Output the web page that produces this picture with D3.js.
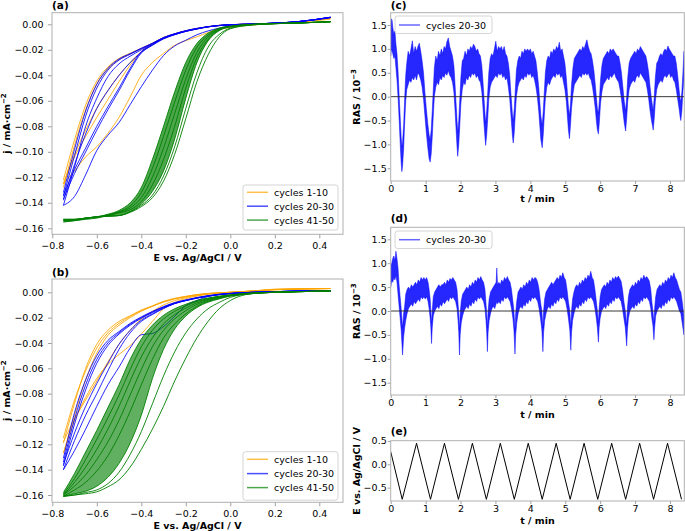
<!DOCTYPE html>
<html><head><meta charset="utf-8">
<script src="https://cdn.jsdelivr.net/npm/d3@7"></script>
<style>body{margin:0;background:#fff} text{font-family:"DejaVu Sans",sans-serif}</style>
</head><body><svg id="c" width="685" height="531"></svg>
<script>
// ---------- DATA ----------
const Egrid = [-0.75,-0.7,-0.65,-0.6,-0.55,-0.5,-0.45,-0.4,-0.35,-0.3,-0.25,-0.2,-0.15,-0.1,-0.05,0,0.1,0.2,0.3,0.45];
const legendLabels = ["cycles 1-10","cycles 20-30","cycles 41-50"];

// panel (a)
const aOrange = [
 [-0.122,-0.0906,-0.0633,-0.0445,-0.0335,-0.0268,-0.0227,-0.0188,-0.0148,-0.0103,-0.0074,-0.005,-0.0032,-0.0018,-0.0008,-0.0003,0.0002,0.0008,0.0018,0.005],
 [-0.128,-0.095,-0.067,-0.047,-0.035,-0.0278,-0.0232,-0.0192,-0.015,-0.0105,-0.0075,-0.0051,-0.0033,-0.0019,-0.0009,-0.0003,0.0002,0.0008,0.0018,0.005],
 [-0.125,-0.104,-0.088,-0.073,-0.059,-0.045,-0.032,-0.0215,-0.0155,-0.011,-0.0078,-0.0053,-0.0035,-0.002,-0.001,-0.0004,0.0002,0.0008,0.0018,0.005],
 [-0.125,-0.115,-0.104,-0.096,-0.0855,-0.073,-0.057,-0.040,-0.030,-0.0228,-0.0165,-0.0128,-0.0098,-0.0065,-0.004,-0.0025,-0.0005,0.0005,0.0015,0.004],
 [-0.125,-0.102,-0.083,-0.066,-0.052,-0.040,-0.030,-0.0215,-0.016,-0.0112,-0.008,-0.0055,-0.0036,-0.002,-0.001,-0.0004,0.0002,0.0008,0.0018,0.005]
];
const aBlue = [
 [-0.135,-0.103,-0.072,-0.05,-0.036,-0.028,-0.0235,-0.019,-0.015,-0.0105,-0.0075,-0.0051,-0.0033,-0.0019,-0.0009,-0.0003,0.0002,0.0009,0.002,0.0055],
 [-0.132,-0.098,-0.068,-0.047,-0.0345,-0.0272,-0.023,-0.0188,-0.0149,-0.0104,-0.0074,-0.005,-0.0032,-0.0018,-0.0008,-0.0003,0.0002,0.0009,0.002,0.0055],
 [-0.134,-0.114,-0.097,-0.080,-0.0646,-0.050,-0.0345,-0.0214,-0.016,-0.011,-0.008,-0.0055,-0.0036,-0.002,-0.001,-0.0004,0.0002,0.0009,0.002,0.0055],
 [-0.137,-0.117,-0.100,-0.083,-0.067,-0.052,-0.036,-0.0225,-0.0165,-0.0115,-0.0082,-0.0056,-0.0037,-0.002,-0.001,-0.0004,0.0002,0.0009,0.002,0.0055],
 [-0.138,-0.110,-0.086,-0.066,-0.052,-0.040,-0.030,-0.022,-0.016,-0.011,-0.008,-0.0055,-0.0036,-0.002,-0.001,-0.0004,0.0002,0.0009,0.002,0.0055],
 [-0.142,-0.135,-0.118,-0.099,-0.087,-0.077,-0.063,-0.049,-0.036,-0.0245,-0.017,-0.0125,-0.0082,-0.0052,-0.003,-0.0012,0.0,0.001,0.002,0.005],
 [-0.142,-0.112,-0.080,-0.058,-0.041,-0.031,-0.025,-0.020,-0.0152,-0.0106,-0.0076,-0.0052,-0.0034,-0.0019,-0.0009,-0.0003,0.0002,0.0009,0.002,0.0055]
];
const aGreen = [
 [-0.154,-0.1535,-0.152,-0.151,-0.149,-0.146,-0.140,-0.128,-0.106,-0.080,-0.053,-0.030,-0.015,-0.007,-0.003,-0.0015,0.0,0.0006,0.001,0.002],
 [-0.155,-0.154,-0.1525,-0.1515,-0.1495,-0.147,-0.1425,-0.132,-0.113,-0.088,-0.061,-0.036,-0.018,-0.0085,-0.0035,-0.0017,0.0,0.0006,0.001,0.002],
 [-0.154,-0.1535,-0.152,-0.151,-0.1495,-0.1475,-0.144,-0.136,-0.120,-0.097,-0.070,-0.043,-0.022,-0.010,-0.004,-0.0018,-0.0001,0.0006,0.001,0.002],
 [-0.155,-0.154,-0.153,-0.152,-0.150,-0.148,-0.1455,-0.139,-0.126,-0.106,-0.080,-0.050,-0.026,-0.012,-0.0045,-0.002,-0.0002,0.0005,0.001,0.002],
 [-0.153,-0.153,-0.152,-0.151,-0.1505,-0.150,-0.147,-0.141,-0.131,-0.115,-0.090,-0.058,-0.030,-0.013,-0.005,-0.002,-0.0003,0.0005,0.001,0.002],
 [-0.153,-0.153,-0.152,-0.151,-0.1505,-0.150,-0.147,-0.142,-0.134,-0.119,-0.096,-0.066,-0.038,-0.018,-0.008,-0.003,-0.0004,0.0005,0.001,0.002],
 [-0.153,-0.153,-0.152,-0.151,-0.1505,-0.150,-0.1475,-0.143,-0.136,-0.123,-0.102,-0.074,-0.045,-0.024,-0.010,-0.0035,-0.0005,0.0005,0.001,0.002]
];
// panel (b)
const bOrange = [
 [-0.119,-0.0876,-0.060,-0.041,-0.030,-0.023,-0.0185,-0.014,-0.0107,-0.0071,-0.0048,-0.0032,-0.0018,-0.0009,-0.0003,0.0,0.001,0.0025,0.0028,0.003],
 [-0.127,-0.097,-0.069,-0.048,-0.034,-0.026,-0.020,-0.015,-0.011,-0.0078,-0.0053,-0.0035,-0.002,-0.001,-0.0004,0.0,0.001,0.0022,0.0026,0.003],
 [-0.127,-0.101,-0.083,-0.068,-0.057,-0.049,-0.042,-0.033,-0.023,-0.013,-0.008,-0.005,-0.003,-0.0015,-0.0007,0.0,0.001,0.002,0.0025,0.003],
 [-0.118,-0.100,-0.085,-0.070,-0.055,-0.041,-0.030,-0.021,-0.015,-0.010,-0.0065,-0.0042,-0.0026,-0.0014,-0.0006,0.0,0.001,0.002,0.0025,0.003],
 [-0.115,-0.085,-0.062,-0.044,-0.032,-0.0245,-0.019,-0.0145,-0.011,-0.0075,-0.005,-0.0033,-0.0019,-0.001,-0.0004,0.0,0.001,0.0022,0.0026,0.003]
];
const bBlue = [
 [-0.131,-0.095,-0.069,-0.050,-0.038,-0.031,-0.0245,-0.0194,-0.0151,-0.0113,-0.0081,-0.006,-0.0041,-0.0026,-0.0015,-0.0008,0.0,0.0005,0.001,0.0012],
 [-0.137,-0.104,-0.077,-0.056,-0.042,-0.033,-0.026,-0.0205,-0.016,-0.012,-0.0088,-0.0065,-0.0045,-0.003,-0.0018,-0.001,0.0,0.0005,0.001,0.0012],
 [-0.134,-0.100,-0.073,-0.053,-0.040,-0.032,-0.0252,-0.020,-0.0155,-0.0116,-0.0085,-0.0062,-0.0043,-0.0028,-0.0016,-0.0009,0.0,0.0005,0.001,0.0012],
 [-0.140,-0.117,-0.097,-0.080,-0.062,-0.045,-0.032,-0.023,-0.0175,-0.0128,-0.009,-0.0066,-0.0046,-0.003,-0.0018,-0.001,0.0,0.0005,0.001,0.0012],
 [-0.136,-0.111,-0.090,-0.072,-0.056,-0.041,-0.030,-0.022,-0.017,-0.0125,-0.0088,-0.0064,-0.0045,-0.003,-0.0018,-0.001,0.0,0.0005,0.001,0.0012],
 [-0.140,-0.125,-0.108,-0.090,-0.073,-0.059,-0.044,-0.0335,-0.0325,-0.027,-0.019,-0.0105,-0.0065,-0.0033,-0.0018,-0.001,0.0,0.0005,0.001,0.0012]
];
const bGreen = [
 [-0.158,-0.143,-0.126,-0.109,-0.091,-0.073,-0.053,-0.037,-0.026,-0.0182,-0.013,-0.0095,-0.0064,-0.0045,-0.003,-0.002,-0.0005,0.0,0.0005,0.001],
 [-0.159,-0.147,-0.132,-0.116,-0.099,-0.081,-0.061,-0.043,-0.030,-0.021,-0.015,-0.0108,-0.0072,-0.005,-0.0034,-0.0022,-0.0006,0.0,0.0005,0.001],
 [-0.160,-0.150,-0.138,-0.124,-0.108,-0.090,-0.070,-0.051,-0.036,-0.025,-0.0175,-0.0125,-0.0083,-0.0056,-0.0038,-0.0024,-0.0007,0.0,0.0005,0.001],
 [-0.160,-0.153,-0.144,-0.132,-0.118,-0.101,-0.081,-0.061,-0.043,-0.030,-0.021,-0.0145,-0.0095,-0.0063,-0.0042,-0.0026,-0.0008,0.0,0.0005,0.001],
 [-0.161,-0.156,-0.150,-0.141,-0.129,-0.113,-0.094,-0.073,-0.053,-0.036,-0.025,-0.017,-0.011,-0.007,-0.0047,-0.0028,-0.0009,0.0,0.0005,0.001],
 [-0.161,-0.159,-0.157,-0.153,-0.146,-0.135,-0.119,-0.097,-0.068,-0.045,-0.029,-0.0188,-0.012,-0.0078,-0.0052,-0.003,-0.001,0.0,0.0005,0.001],
 [-0.161,-0.160,-0.158,-0.156,-0.151,-0.142,-0.128,-0.110,-0.088,-0.066,-0.047,-0.032,-0.021,-0.013,-0.008,-0.004,-0.001,0.0,0.0005,0.001],
 [-0.161,-0.160,-0.159,-0.1575,-0.1535,-0.148,-0.138,-0.124,-0.108,-0.090,-0.070,-0.052,-0.036,-0.023,-0.013,-0.0065,-0.001,0.0,0.0005,0.001]
];
// panel (c): [t (min), low, high] envelope of RAS (10^-3)
const rasC = [
 [0.00,0.85,1.45],[0.02,1.00,1.63],[0.04,0.95,1.60],[0.06,0.90,1.45],[0.09,0.80,1.30],[0.12,0.85,1.38],[0.15,0.60,1.10],[0.18,0.35,0.90],[0.21,0.00,0.55],[0.24,-0.45,0.05],[0.27,-0.95,-0.40],[0.30,-1.40,-0.85],[0.32,-1.57,-1.05],[0.34,-1.45,-0.95],[0.37,-1.10,-0.60],[0.40,-0.55,-0.05],[0.43,-0.10,0.45],[0.46,0.15,0.70],[0.50,0.25,0.95],[0.54,0.35,0.85],[0.58,0.30,1.00],[0.62,0.40,1.17],[0.66,0.35,0.90],[0.70,0.45,1.05],[0.74,0.35,0.95],[0.78,0.50,1.05],[0.82,0.45,1.12],[0.86,0.35,0.95],[0.90,0.20,0.75],[0.94,-0.05,0.50],[0.98,-0.40,0.10],[1.02,-0.75,-0.25],[1.06,-1.05,-0.55],[1.10,-1.30,-0.80],[1.13,-1.37,-0.90],
 [1.16,-1.20,-0.70],[1.19,-0.85,-0.30],[1.22,-0.40,0.15],[1.25,0.00,0.60],[1.29,0.20,0.85],[1.33,0.30,0.75],[1.37,0.25,0.95],[1.41,0.40,0.85],[1.45,0.35,1.00],[1.49,0.45,0.90],[1.53,0.40,1.05],[1.57,0.50,1.00],[1.61,0.45,1.15],[1.65,0.55,1.23],[1.69,0.45,1.05],[1.73,0.40,0.95],[1.77,0.30,0.85],[1.81,0.10,0.65],[1.84,-0.25,0.30],[1.87,-0.65,-0.10],[1.90,-1.05,-0.50],[1.92,-1.25,-0.75],
 [1.95,-1.00,-0.50],[1.98,-0.60,-0.05],[2.01,-0.15,0.40],[2.05,0.15,0.75],[2.09,0.30,0.80],[2.13,0.25,0.95],[2.17,0.40,0.85],[2.21,0.35,1.00],[2.25,0.45,0.95],[2.29,0.40,1.05],[2.33,0.50,1.00],[2.37,0.45,1.10],[2.41,0.50,1.05],[2.45,0.40,0.95],[2.49,0.45,1.00],[2.53,0.35,0.90],[2.57,0.30,0.85],[2.61,0.10,0.65],[2.64,-0.20,0.35],[2.67,-0.55,0.00],[2.70,-0.85,-0.35],[2.72,-1.02,-0.55],
 [2.75,-0.80,-0.30],[2.78,-0.45,0.10],[2.81,-0.05,0.50],[2.85,0.20,0.80],[2.89,0.30,0.90],[2.93,0.35,0.85],[2.97,0.40,1.00],[3.01,0.45,1.16],[3.05,0.40,0.95],[3.09,0.50,1.05],[3.13,0.45,1.00],[3.17,0.50,1.05],[3.21,0.40,0.95],[3.25,0.45,1.05],[3.29,0.35,0.90],[3.33,0.40,0.85],[3.37,0.20,0.70],[3.41,-0.05,0.45],[3.44,-0.35,0.10],[3.47,-0.65,-0.20],[3.49,-0.85,-0.40],[3.51,-0.97,-0.50],
 [3.54,-0.75,-0.25],[3.57,-0.35,0.15],[3.60,0.00,0.55],[3.64,0.20,0.75],[3.68,0.30,0.85],[3.72,0.35,0.80],[3.76,0.40,0.95],[3.80,0.35,0.90],[3.84,0.45,1.00],[3.88,0.40,0.95],[3.92,0.50,1.00],[3.96,0.45,0.95],[4.00,0.50,1.00],[4.04,0.40,0.90],[4.08,0.45,0.95],[4.12,0.35,0.85],[4.16,0.20,0.75],[4.20,0.00,0.50],[4.24,-0.30,0.20],[4.27,-0.60,-0.10],[4.30,-0.90,-0.40],[4.34,-1.07,-0.60],
 [4.37,-0.80,-0.30],[4.40,-0.40,0.10],[4.43,-0.05,0.50],[4.47,0.20,0.75],[4.51,0.30,0.85],[4.55,0.25,0.80],[4.59,0.35,0.95],[4.63,0.40,0.90],[4.67,0.45,1.00],[4.71,0.40,0.95],[4.75,0.50,1.05],[4.79,0.45,1.00],[4.83,0.50,1.14],[4.87,0.40,0.95],[4.91,0.45,1.00],[4.95,0.30,0.85],[4.99,0.15,0.70],[5.03,-0.10,0.40],[5.06,-0.40,0.10],[5.09,-0.70,-0.20],[5.12,-0.88,-0.40],
 [5.15,-0.60,-0.15],[5.18,-0.25,0.25],[5.22,0.05,0.60],[5.26,0.25,0.80],[5.30,0.30,0.85],[5.34,0.35,0.90],[5.38,0.40,0.95],[5.42,0.45,1.00],[5.46,0.40,0.95],[5.50,0.50,1.05],[5.54,0.45,1.00],[5.58,0.50,1.10],[5.62,0.45,1.19],[5.66,0.50,1.05],[5.70,0.40,0.95],[5.74,0.35,0.90],[5.78,0.20,0.75],[5.82,0.00,0.55],[5.86,-0.25,0.25],[5.89,-0.50,0.00],[5.92,-0.70,-0.25],[5.95,-0.78,-0.35],
 [5.98,-0.50,-0.05],[6.01,-0.15,0.35],[6.05,0.10,0.65],[6.09,0.25,0.80],[6.13,0.30,0.85],[6.17,0.35,0.90],[6.21,0.40,0.95],[6.25,0.35,0.90],[6.29,0.45,1.00],[6.33,0.40,0.95],[6.37,0.45,1.00],[6.41,0.50,0.95],[6.45,0.40,0.90],[6.49,0.35,0.85],[6.53,0.30,0.85],[6.57,0.15,0.70],[6.61,-0.05,0.50],[6.65,-0.30,0.20],[6.69,-0.55,-0.10],[6.73,-0.72,-0.30],
 [6.76,-0.45,0.00],[6.79,-0.10,0.40],[6.83,0.15,0.70],[6.87,0.25,0.80],[6.91,0.30,0.85],[6.95,0.35,0.90],[6.99,0.30,0.95],[7.03,0.40,0.90],[7.07,0.45,1.00],[7.11,0.40,0.95],[7.15,0.50,1.05],[7.19,0.45,1.00],[7.23,0.40,0.95],[7.27,0.35,0.90],[7.31,0.30,0.85],[7.35,0.15,0.70],[7.39,-0.05,0.50],[7.43,-0.30,0.20],[7.47,-0.50,-0.05],[7.52,-0.70,-0.30],
 [7.55,-0.45,0.00],[7.58,-0.10,0.40],[7.62,0.15,0.70],[7.66,0.25,0.75],[7.70,0.30,0.85],[7.74,0.35,0.90],[7.78,0.30,0.85],[7.82,0.40,0.95],[7.86,0.45,1.00],[7.90,0.40,0.95],[7.94,0.45,1.06],[7.98,0.50,1.00],[8.02,0.40,0.95],[8.06,0.45,0.90],[8.10,0.35,0.85],[8.14,0.30,0.85],[8.18,0.15,0.70],[8.22,-0.05,0.45],[8.26,-0.25,0.15],[8.29,-0.42,-0.05],[8.31,-0.50,-0.10],[8.34,-0.30,0.10],[8.37,0.10,0.50],[8.40,0.35,0.95]
];
// panel (d)
const rasD = [
 [0.00,0.50,0.95],[0.03,0.65,1.00],[0.06,0.60,1.10],[0.09,0.70,1.15],[0.12,0.65,1.05],[0.15,0.75,1.25],[0.18,0.60,1.10],[0.21,0.35,0.90],[0.24,0.10,0.55],[0.27,-0.15,0.30],[0.30,-0.40,0.05],[0.34,-0.92,-0.35],[0.37,-0.55,-0.05],[0.40,-0.35,0.10],[0.43,-0.20,0.35],[0.47,-0.05,0.45],[0.51,0.05,0.50],[0.55,0.10,0.45],[0.59,0.15,0.55],[0.63,0.10,0.50],[0.67,0.20,0.55],[0.71,0.15,0.60],[0.75,0.20,0.55],[0.79,0.25,0.65],[0.83,0.20,0.60],[0.87,0.30,0.70],[0.91,0.25,0.65],[0.95,0.30,0.70],[0.99,0.25,0.65],[1.03,0.30,0.70],[1.07,0.20,0.60],[1.10,0.05,0.45],[1.13,-0.15,0.25],[1.15,-0.35,0.00],[1.17,-0.68,-0.25],
 [1.19,-0.35,0.00],[1.22,-0.10,0.30],[1.26,0.00,0.40],[1.30,0.05,0.45],[1.34,0.10,0.50],[1.38,0.05,0.55],[1.42,0.15,0.50],[1.46,0.10,0.55],[1.50,0.20,0.55],[1.54,0.15,0.60],[1.58,0.20,0.55],[1.62,0.25,0.65],[1.66,0.20,0.60],[1.70,0.30,0.68],[1.74,0.25,0.65],[1.78,0.30,0.70],[1.82,0.25,0.65],[1.86,0.20,0.60],[1.90,0.05,0.45],[1.93,-0.20,0.15],[1.95,-0.45,-0.05],[1.97,-0.92,-0.40],
 [1.99,-0.50,-0.05],[2.02,-0.25,0.20],[2.06,-0.10,0.35],[2.10,0.00,0.40],[2.14,0.05,0.45],[2.18,0.10,0.50],[2.22,0.05,0.45],[2.26,0.15,0.55],[2.30,0.10,0.50],[2.34,0.20,0.60],[2.38,0.15,0.55],[2.42,0.25,0.65],[2.46,0.20,0.60],[2.50,0.30,0.70],[2.54,0.25,0.65],[2.58,0.30,0.72],[2.62,0.25,0.65],[2.66,0.20,0.60],[2.70,0.05,0.45],[2.73,-0.20,0.15],[2.75,-0.45,-0.05],[2.77,-0.85,-0.35],
 [2.79,-0.45,0.00],[2.82,-0.20,0.25],[2.86,-0.05,0.40],[2.90,0.05,0.45],[2.94,0.10,0.50],[2.98,0.05,0.55],[3.02,0.15,0.60],[3.04,0.20,0.90],[3.06,0.15,0.55],[3.10,0.20,0.60],[3.14,0.15,0.55],[3.18,0.25,0.65],[3.22,0.20,0.60],[3.26,0.30,0.70],[3.30,0.25,0.65],[3.34,0.30,0.72],[3.38,0.25,0.65],[3.42,0.20,0.60],[3.46,0.05,0.45],[3.50,-0.15,0.20],[3.53,-0.40,0.00],[3.56,-0.90,-0.40],
 [3.58,-0.50,-0.05],[3.61,-0.25,0.20],[3.65,-0.05,0.40],[3.69,0.05,0.45],[3.73,0.10,0.50],[3.77,0.05,0.45],[3.81,0.15,0.55],[3.85,0.10,0.50],[3.89,0.20,0.60],[3.93,0.15,0.55],[3.97,0.25,0.65],[4.01,0.20,0.60],[4.05,0.30,0.70],[4.09,0.25,0.65],[4.13,0.30,0.70],[4.17,0.25,0.68],[4.21,0.20,0.60],[4.25,0.05,0.45],[4.29,-0.15,0.20],[4.33,-0.40,0.00],[4.36,-0.85,-0.35],
 [4.38,-0.45,0.00],[4.41,-0.20,0.25],[4.45,-0.05,0.40],[4.49,0.05,0.45],[4.53,0.10,0.50],[4.57,0.05,0.55],[4.61,0.15,0.60],[4.65,0.10,0.55],[4.69,0.20,0.60],[4.73,0.15,0.65],[4.77,0.25,0.70],[4.81,0.20,0.65],[4.85,0.30,0.75],[4.89,0.25,0.70],[4.93,0.30,0.80],[4.97,0.25,0.70],[5.01,0.20,0.65],[5.05,0.05,0.45],[5.09,-0.15,0.20],[5.13,-0.40,0.00],[5.16,-0.82,-0.35],
 [5.18,-0.45,0.00],[5.21,-0.20,0.25],[5.25,-0.05,0.40],[5.29,0.05,0.50],[5.33,0.10,0.55],[5.37,0.05,0.50],[5.41,0.15,0.60],[5.45,0.10,0.55],[5.49,0.20,0.65],[5.53,0.15,0.60],[5.57,0.25,0.70],[5.61,0.20,0.65],[5.65,0.30,0.75],[5.69,0.25,0.70],[5.73,0.30,0.83],[5.77,0.25,0.70],[5.81,0.20,0.65],[5.85,0.05,0.45],[5.89,-0.15,0.20],[5.92,-0.35,0.00],[5.95,-0.65,-0.25],
 [5.97,-0.35,0.05],[6.00,-0.15,0.30],[6.04,0.00,0.45],[6.08,0.05,0.50],[6.12,0.10,0.55],[6.16,0.05,0.50],[6.20,0.15,0.60],[6.24,0.10,0.55],[6.28,0.20,0.65],[6.32,0.15,0.60],[6.36,0.25,0.70],[6.40,0.20,0.65],[6.44,0.30,0.72],[6.48,0.25,0.68],[6.52,0.30,0.73],[6.56,0.25,0.68],[6.60,0.20,0.62],[6.64,0.05,0.45],[6.68,-0.15,0.20],[6.72,-0.35,0.00],[6.76,-0.73,-0.30],
 [6.78,-0.40,0.05],[6.81,-0.15,0.30],[6.85,0.00,0.45],[6.89,0.05,0.50],[6.93,0.10,0.55],[6.97,0.05,0.50],[7.01,0.15,0.60],[7.05,0.10,0.55],[7.09,0.20,0.65],[7.13,0.15,0.60],[7.17,0.25,0.70],[7.21,0.20,0.65],[7.25,0.30,0.75],[7.29,0.25,0.68],[7.33,0.30,0.72],[7.37,0.25,0.68],[7.41,0.20,0.62],[7.45,0.05,0.45],[7.48,-0.15,0.20],[7.51,-0.30,0.00],[7.54,-0.60,-0.25],
 [7.56,-0.35,0.05],[7.59,-0.10,0.30],[7.63,0.00,0.45],[7.67,0.05,0.50],[7.71,0.10,0.55],[7.75,0.05,0.50],[7.79,0.15,0.60],[7.83,0.10,0.55],[7.87,0.20,0.65],[7.91,0.15,0.60],[7.95,0.25,0.70],[7.99,0.20,0.65],[8.03,0.30,0.75],[8.07,0.25,0.70],[8.11,0.30,0.80],[8.15,0.25,0.70],[8.19,0.20,0.65],[8.23,0.10,0.55],[8.27,0.00,0.45],[8.31,-0.05,0.40],[8.35,-0.25,0.20],[8.40,-0.50,-0.10]
];
// panel (e): potential program vertices
const eTime = [0,0.33,0.74,1.14,1.54,1.94,2.34,2.74,3.14,3.54,3.94,4.34,4.74,5.14,5.54,5.93,6.33,6.73,7.13,7.53,7.93,8.33];
const ePot  = [0.27,-0.75,0.45,-0.75,0.45,-0.75,0.45,-0.75,0.45,-0.75,0.45,-0.75,0.45,-0.75,0.45,-0.75,0.45,-0.75,0.45,-0.75,0.45,-0.75];

const cvTicksY = [0,-0.02,-0.04,-0.06,-0.08,-0.1,-0.12,-0.14,-0.16];
const cvTicksX = [-0.8,-0.6,-0.4,-0.2,0,0.2,0.4];
const rasTicksY = [1.5,1,0.5,0,-0.5,-1,-1.5];
const tTicks = [0,1,2,3,4,5,6,7,8];
const eTicksY = [0.5,0,-0.5];

// ---------- DRAW ----------
const COL = {o:"#ffa500", b:"#0000ff", g:"#008000"};
const svg = d3.select("#c");
const FONT = "DejaVu Sans";

function makePanel(p){
  const xs = d3.scaleLinear().domain(p.xd).range([p.x0,p.x1]);
  const ys = d3.scaleLinear().domain(p.yd).range([p.y1,p.y0]);
  svg.append("clipPath").attr("id","clip"+p.name).append("rect")
    .attr("x",p.x0).attr("y",p.y0).attr("width",p.x1-p.x0).attr("height",p.y1-p.y0);
  const g = svg.append("g").attr("clip-path",`url(#clip${p.name})`);
  return {xs,ys,g,p};
}
function drawAxes(P, o){
  const p = P.p;
  const gx = svg.append("g").attr("transform",`translate(0,${p.y1})`)
    .call(d3.axisBottom(P.xs).tickValues(o.xt).tickFormat(o.xf).tickSize(o.tl).tickPadding(o.xpad));
  const gy = svg.append("g").attr("transform",`translate(${p.x0},0)`)
    .call(d3.axisLeft(P.ys).tickValues(o.yt).tickFormat(o.yf).tickSize(o.tl).tickPadding(o.ypad));
  [gx,gy].forEach(a=>{
    a.select(".domain").remove();
    a.attr("font-family",FONT).attr("font-size",9.5);
    a.selectAll("line").attr("stroke","#a0a0a0");
    a.selectAll("text").attr("fill","#000");
  });
  svg.append("rect").attr("x",p.x0).attr("y",p.y0).attr("width",p.x1-p.x0).attr("height",p.y1-p.y0)
    .attr("fill","none").attr("stroke","#b0b0b0").attr("stroke-width",1);
  svg.append("text").attr("x",p.x0).attr("y",o.labY).attr("font-weight","bold").attr("font-size",10.5).text(o.label);
  svg.append("text").attr("x",(p.x0+p.x1)/2).attr("y",o.xlabY).attr("text-anchor","middle")
    .attr("font-weight","bold").attr("font-size",9.5).text(o.xlab);
  const yl = svg.append("text").attr("transform",`translate(${o.ylabX},${(p.y0+p.y1)/2}) rotate(-90)`)
    .attr("text-anchor","middle").attr("font-weight","bold").attr("font-size",9.5);
  yl.append("tspan").text(o.ylab[0]);
  if(o.ylab[1]){
    yl.append("tspan").attr("dy",-3.5).attr("font-size",7).text(o.ylab[1]);
  }
}
function legend(x,y,w,h,rows,items,lineOp){
  svg.append("rect").attr("x",x).attr("y",y).attr("width",w).attr("height",h).attr("rx",2.5)
    .attr("fill","#fff").attr("fill-opacity",0.85).attr("stroke","#d4d4d4").attr("stroke-width",1);
  items.forEach((it,i)=>{
    svg.append("line").attr("x1",x+4).attr("x2",x+25).attr("y1",rows[i]).attr("y2",rows[i])
      .attr("stroke",it.c).attr("stroke-width",1.5).attr("stroke-opacity",lineOp);
    svg.append("text").attr("x",x+31).attr("y",rows[i]+3.5).attr("font-size",9.5).text(it.t);
  });
}
function cvPanel(P, orange, blue, green, fillOp){
  const line = d3.line().x((d,i)=>P.xs(Egrid[i])).y(d=>P.ys(d)).curve(d3.curveMonotoneX);
  const area = d3.area().x((d,i)=>P.xs(Egrid[i])).y0(d=>P.ys(d[0])).y1(d=>P.ys(d[1])).curve(d3.curveMonotoneX);
  orange.forEach(s=>P.g.append("path").attr("d",line(s)).attr("fill","none").attr("stroke",COL.o).attr("stroke-width",1).attr("stroke-opacity",0.85));
  blue.forEach(s=>P.g.append("path").attr("d",line(s)).attr("fill","none").attr("stroke",COL.b).attr("stroke-width",1).attr("stroke-opacity",0.85));
  const first = green[0], edge = green[green.length>7?5:4];
  P.g.append("path").attr("d",area(first.map((v,i)=>[v,edge[i]]))).attr("fill",COL.g).attr("fill-opacity",fillOp);
  green.forEach(s=>P.g.append("path").attr("d",line(s)).attr("fill","none").attr("stroke",COL.g).attr("stroke-width",1).attr("stroke-opacity",0.9));
}
function rasPanel(P, data){
  const area = d3.area().x(d=>P.xs(d[0])).y0(d=>P.ys(d[1])).y1(d=>P.ys(d[2]));
  P.g.append("path").attr("d",area(data)).attr("fill",COL.b).attr("fill-opacity",0.85)
    .attr("stroke",COL.b).attr("stroke-opacity",0.6).attr("stroke-width",0.8);
  P.g.append("line").attr("x1",P.p.x0).attr("x2",P.p.x1).attr("y1",P.ys(0)).attr("y2",P.ys(0))
    .attr("stroke","#222").attr("stroke-width",0.9);
}

const fmt2 = d3.format(".2f"), fmt1 = d3.format(".1f"), fmt0 = d3.format("d");

// (a)
const A = makePanel({name:"a",x0:52,x1:343,y0:12.7,y1:234.3,xd:[-0.8013,0.5065],yd:[-0.16471,0.0091]});
cvPanel(A, aOrange, aBlue, aGreen, 0.7);
drawAxes(A,{xt:cvTicksX,xf:fmt1,yt:cvTicksY,yf:fmt2,tl:4,xpad:4,ypad:4.5,label:"(a)",labY:9,
  xlab:"E vs. Ag/AgCl / V",xlabY:261,ylab:["j / mA·cm","−2"],ylabX:9.5});
legend(243,185,95,45,[192.3,206.2,220.1],[{c:COL.o,t:legendLabels[0]},{c:COL.b,t:legendLabels[1]},{c:COL.g,t:legendLabels[2]}],0.7);

// (b)
const B = makePanel({name:"b",x0:52,x1:343,y0:279,y1:502.3,xd:[-0.8013,0.5065],yd:[-0.16576,0.0105]});
cvPanel(B, bOrange, bBlue, bGreen, 0.62);
drawAxes(B,{xt:cvTicksX,xf:fmt1,yt:cvTicksY,yf:fmt2,tl:4,xpad:3.5,ypad:4.5,label:"(b)",labY:276,
  xlab:"E vs. Ag/AgCl / V",xlabY:528.5,ylab:["j / mA·cm","−2"],ylabX:9.5});
legend(243,451.7,95,48.5,[459.3,473.6,487.6],[{c:COL.o,t:legendLabels[0]},{c:COL.b,t:legendLabels[1]},{c:COL.g,t:legendLabels[2]}],0.7);

// (c)
const C = makePanel({name:"c",x0:390.7,x1:684.3,y0:12.7,y1:181,xd:[0,8.41],yd:[-1.766,1.758]});
rasPanel(C, rasC);
drawAxes(C,{xt:tTicks,xf:fmt0,yt:rasTicksY,yf:fmt1,tl:3,xpad:0.8,ypad:1,label:"(c)",labY:8.5,
  xlab:"t / min",xlabY:202,ylab:["RAS / 10","−3"],ylabX:359.5});
legend(395,16,97,17.5,[25],[{c:COL.b,t:legendLabels[1]}],0.6);

// (d)
const D = makePanel({name:"d",x0:390.7,x1:684.3,y0:227.3,y1:395,xd:[0,8.41],yd:[-1.757,1.751]});
rasPanel(D, rasD);
drawAxes(D,{xt:tTicks,xf:fmt0,yt:rasTicksY,yf:fmt1,tl:3,xpad:0.8,ypad:1,label:"(d)",labY:222,
  xlab:"t / min",xlabY:417.5,ylab:["RAS / 10","−3"],ylabX:359.5});
legend(395,231,97,17.5,[239.7],[{c:COL.b,t:legendLabels[1]}],0.6);

// (e)
const Ep = makePanel({name:"e",x0:390.7,x1:684.3,y0:440.7,y1:501,xd:[0,8.41],yd:[-0.786,0.505]});
Ep.g.append("path").attr("d",d3.line().x((d,i)=>Ep.xs(eTime[i])).y(d=>Ep.ys(d))(ePot))
  .attr("fill","none").attr("stroke","#000").attr("stroke-width",1);
drawAxes(Ep,{xt:tTicks,xf:fmt0,yt:eTicksY,yf:fmt1,tl:3,xpad:0.8,ypad:1,label:"(e)",labY:435,
  xlab:"t / min",xlabY:524,ylab:["E vs. Ag/AgCl / V",""],ylabX:359.5});
</script></body></html>
